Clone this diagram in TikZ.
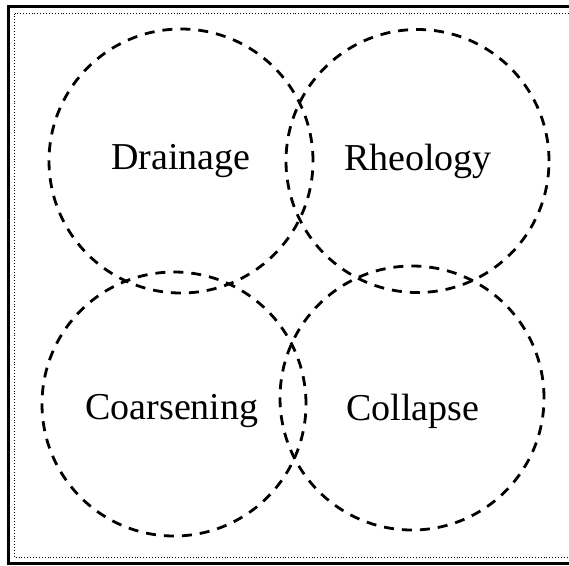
\documentclass[tikz,border=0pt]{standalone}
\usepackage{fontspec}
\setmainfont{Liberation Serif}
\usetikzlibrary{positioning}
\tikzset{
  bubble/.style={circle, draw, line width=2.8pt, dash pattern=on 10pt off 8pt,
    minimum size=#1, inner sep=0pt},
  bubble/.default=264pt,
  tag/.style={inner sep=0pt, font=\fontsize{38}{40}\selectfont}
}

\begin{document}
\begin{tikzpicture}[x=1pt,y=-1pt]
  \useasboundingbox (0,0) rectangle (569,565);
  \clip (0,0) rectangle (569,565);
  % frames (the right edge runs off the picture)
  \draw[line width=3pt] (8,6.5) rectangle (590,563);
  \draw[line width=0.9pt, dotted] (14.5,13.5) rectangle (580,557.5);
  % the four regions
  \node[bubble] (drainage) at (181,161) {};
  \node[bubble=263pt] (rheology) at (417.5,161) {};
  \node[bubble] (coarsening) at (174,404) {};
  \node[bubble] (collapse) at (412,398) {};
  % their names
  \node[tag] (drainagetag) at (181,161) {Drainage};
  \node[tag] (rheologytag) at (418,161) {Rheology};
  \node[tag] (coarseningtag) at (172,411) {Coarsening};
  \node[tag] (collapsetag) at (413,411) {Collapse};
\end{tikzpicture}
\end{document}
